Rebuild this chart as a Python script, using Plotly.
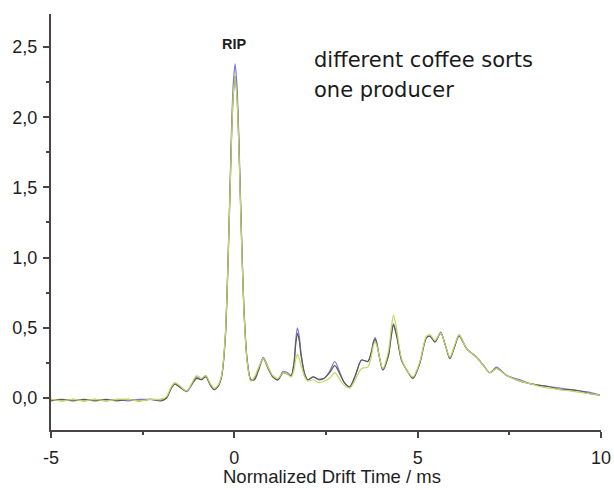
import plotly.graph_objects as go

# Drift time axis (ms)
drift_time = [-5.0, -4.7, -4.4, -4.1, -3.8, -3.5, -3.2, -2.9, -2.6, -2.3, -2.0, -1.85, -1.72, -1.62, -1.5,
              -1.3, -1.15, -1.03, -0.9, -0.78, -0.65, -0.55, -0.45, -0.35, -0.25, -0.15, -0.08, -0.03,
              0.02, 0.07, 0.12, 0.19, 0.27, 0.35, 0.45, 0.55, 0.65, 0.79, 0.92, 1.05, 1.19, 1.33, 1.45,
              1.55, 1.63, 1.67, 1.72, 1.77, 1.82, 1.92, 2.0, 2.15, 2.3, 2.45, 2.6, 2.74, 2.88, 3.0, 3.15,
              3.3, 3.47, 3.64, 3.74, 3.79, 3.84, 3.89, 3.95, 4.05, 4.2, 4.28, 4.34, 4.40, 4.45, 4.56,
              4.7, 4.87, 5.05, 5.24, 5.34, 5.47, 5.63, 5.75, 5.88, 6.0, 6.13, 6.34, 6.61, 6.8, 6.97,
              7.15, 7.43, 7.79, 8.1, 8.34, 8.6, 8.88, 9.15, 9.43, 9.7, 9.97]

sort_blue = [-0.01, -0.02, -0.01, -0.02, -0.01, -0.02, -0.01, -0.02, -0.01, -0.01, -0.01, 0.00, 0.07, 0.10, 0.08,
             0.045, 0.10, 0.15, 0.13, 0.16, 0.09, 0.06, 0.08, 0.15, 0.42, 1.19, 1.89, 2.23,
             2.38, 2.23, 1.89, 1.22, 0.60, 0.27, 0.13, 0.14, 0.20, 0.29, 0.22, 0.15, 0.13, 0.19, 0.18,
             0.16, 0.26, 0.40, 0.50, 0.44, 0.32, 0.17, 0.13, 0.15, 0.135, 0.14, 0.19, 0.26, 0.18, 0.11, 0.08,
             0.16, 0.27, 0.26, 0.33, 0.40, 0.43, 0.39, 0.30, 0.20, 0.30, 0.45, 0.53, 0.48, 0.42, 0.27,
             0.20, 0.14, 0.24, 0.43, 0.44, 0.40, 0.47, 0.38, 0.28, 0.36, 0.45, 0.35, 0.29, 0.23, 0.18,
             0.22, 0.16, 0.13, 0.10, 0.09, 0.08, 0.07, 0.06, 0.05, 0.04, 0.02]

sort_olive = [-0.02, -0.01, -0.02, -0.01, -0.02, -0.01, -0.02, -0.01, -0.02, -0.01, -0.02, 0.00, 0.07, 0.10, 0.08,
              0.05, 0.10, 0.14, 0.13, 0.15, 0.09, 0.06, 0.08, 0.15, 0.41, 1.15, 1.82, 2.15,
              2.29, 2.16, 1.83, 1.19, 0.58, 0.27, 0.13, 0.13, 0.19, 0.28, 0.21, 0.15, 0.13, 0.18, 0.17,
              0.16, 0.25, 0.37, 0.46, 0.41, 0.30, 0.17, 0.13, 0.15, 0.13, 0.14, 0.18, 0.23, 0.17, 0.11, 0.08,
              0.16, 0.27, 0.26, 0.33, 0.39, 0.42, 0.38, 0.30, 0.20, 0.30, 0.44, 0.52, 0.47, 0.41, 0.27,
              0.20, 0.14, 0.24, 0.43, 0.44, 0.40, 0.46, 0.38, 0.28, 0.36, 0.44, 0.35, 0.29, 0.23, 0.18,
              0.21, 0.16, 0.12, 0.10, 0.09, 0.08, 0.06, 0.06, 0.05, 0.03, 0.02]

sort_green = [-0.01, -0.02, -0.01, -0.02, -0.01, -0.02, -0.01, -0.01, -0.02, -0.01, -0.01, 0.01, 0.08, 0.11, 0.09,
              0.05, 0.11, 0.16, 0.14, 0.16, 0.10, 0.07, 0.09, 0.16, 0.43, 1.16, 1.83, 2.16,
              2.29, 2.15, 1.82, 1.18, 0.57, 0.26, 0.12, 0.15, 0.21, 0.28, 0.22, 0.16, 0.14, 0.18, 0.17,
              0.15, 0.20, 0.27, 0.31, 0.28, 0.23, 0.15, 0.12, 0.13, 0.11, 0.12, 0.14, 0.18, 0.13, 0.09, 0.07,
              0.13, 0.21, 0.22, 0.30, 0.37, 0.40, 0.37, 0.30, 0.21, 0.33, 0.50, 0.59, 0.53, 0.45, 0.28,
              0.20, 0.15, 0.25, 0.44, 0.45, 0.41, 0.46, 0.38, 0.29, 0.37, 0.45, 0.35, 0.29, 0.23, 0.18,
              0.21, 0.16, 0.12, 0.10, 0.08, 0.07, 0.06, 0.05, 0.04, 0.03, 0.02]

x_ticks = [-5, 0, 5, 10]
y_ticks = [0.0, 0.5, 1.0, 1.5, 2.0, 2.5]

axis_color = "#4a4444"
text_color = "#1e1e1e"

fig = go.Figure()
for name, ys, col in [("sort A", sort_blue, "#7676dc"),
                      ("sort B", sort_olive, "#5c5c4a"),
                      ("sort C", sort_green, "#c4d765")]:
    fig.add_trace(go.Scatter(x=drift_time, y=ys, mode="lines", name=name,
                             line=dict(color=col, width=1.2, shape="spline", smoothing=0.8)))

fig.update_layout(
    width=614, height=490,
    margin=dict(l=51, r=13, t=14, b=60, autoexpand=False),
    paper_bgcolor="white", plot_bgcolor="white",
    showlegend=False,
    separators=",.",
    font=dict(family="Liberation Sans, Arial, sans-serif", color=text_color),
)

fig.update_xaxes(
    range=[-5, 10], tickvals=x_ticks, ticktext=[str(v) for v in x_ticks],
    automargin=False,
    showgrid=False, zeroline=False,
    showline=True, linecolor=axis_color, linewidth=2,
    ticks="outside", ticklen=6, tickwidth=2, tickcolor=axis_color,
    minor=dict(dtick=2.5, tick0=-5, ticks="outside", ticklen=3, tickwidth=2, tickcolor=axis_color),
    tickfont=dict(size=18, color=text_color),
    ticklabelstandoff=4,
)
fig.update_yaxes(
    range=[-0.228, 2.735], tickvals=y_ticks, tickformat=".1f",
    automargin=False,
    showgrid=False, zeroline=False,
    showline=True, linecolor=axis_color, linewidth=2,
    ticks="outside", ticklen=6, tickwidth=2, tickcolor=axis_color,
    minor=dict(dtick=0.25, tick0=0, ticks="outside", ticklen=3, tickwidth=2, tickcolor=axis_color),
    tickfont=dict(size=18, color=text_color),
    ticklabelstandoff=2,
)

fig.add_annotation(x=0.511, y=0, xref="paper", yref="paper", yshift=-46,
                   text="Normalized Drift Time / ms", showarrow=False,
                   xanchor="center", yanchor="middle",
                   font=dict(family="Liberation Sans, Arial", size=18.5, color=text_color))
fig.add_annotation(x=0.0, y=2.52, text="<b>RIP</b>", showarrow=False,
                   xanchor="center", yanchor="middle",
                   font=dict(family="Liberation Sans, Arial", size=14.5, color=text_color))
fig.add_annotation(x=2.12, y=2.41, text="different coffee sorts", showarrow=False,
                   xanchor="left", yanchor="middle",
                   font=dict(family="DejaVu Sans, Liberation Sans", size=21, color="#1a1a1a"))
fig.add_annotation(x=2.12, y=2.195, text="one producer", showarrow=False,
                   xanchor="left", yanchor="middle",
                   font=dict(family="DejaVu Sans, Liberation Sans", size=21, color="#1a1a1a"))

fig.write_html("out.html", config={"displayModeBar": False},
               post_script="document.body.style.margin='0';document.body.style.overflow='hidden';")
